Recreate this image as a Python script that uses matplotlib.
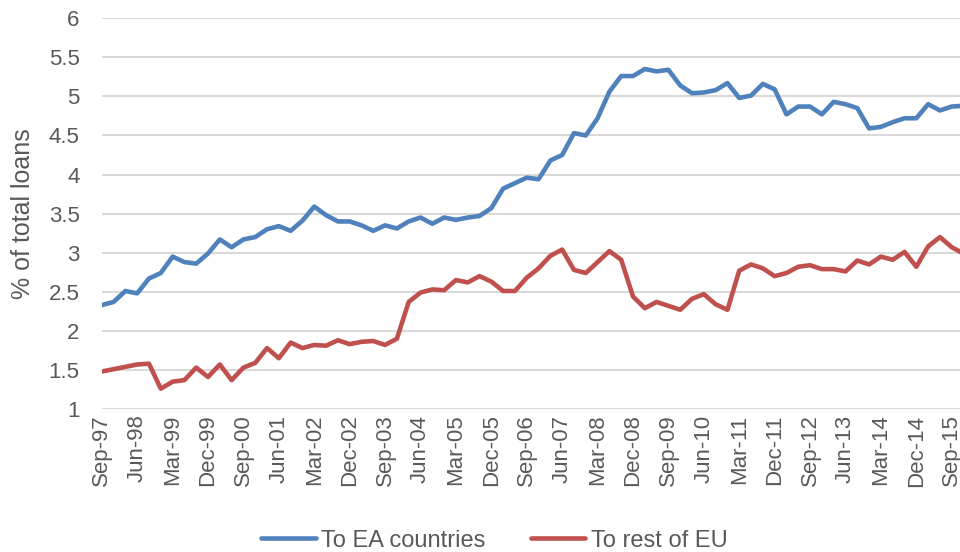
import matplotlib.pyplot as plt

# Quarterly series, Sep-97 .. Dec-15 (% of total loans)
ea_countries = [2.33, 2.37, 2.51, 2.48, 2.67, 2.74, 2.95, 2.88, 2.86, 2.99,
                3.17, 3.07, 3.17, 3.20, 3.30, 3.34, 3.28, 3.41, 3.59, 3.48,
                3.40, 3.40, 3.35, 3.28, 3.35, 3.31, 3.40, 3.45, 3.37, 3.45,
                3.42, 3.45, 3.47, 3.57, 3.82, 3.89, 3.96, 3.94, 4.18, 4.25,
                4.53, 4.50, 4.72, 5.06, 5.26, 5.26, 5.35, 5.32, 5.34, 5.14,
                5.04, 5.05, 5.08, 5.17, 4.98, 5.01, 5.16, 5.09, 4.77, 4.87,
                4.87, 4.77, 4.93, 4.90, 4.85, 4.59, 4.61, 4.67, 4.72, 4.72,
                4.90, 4.82, 4.87, 4.88]
rest_of_eu = [1.48, 1.51, 1.54, 1.57, 1.58, 1.26, 1.35, 1.37, 1.53, 1.41,
              1.57, 1.37, 1.53, 1.59, 1.78, 1.65, 1.85, 1.78, 1.82, 1.81,
              1.88, 1.83, 1.86, 1.87, 1.82, 1.90, 2.37, 2.49, 2.53, 2.52,
              2.65, 2.62, 2.70, 2.63, 2.51, 2.51, 2.68, 2.80, 2.96, 3.04,
              2.78, 2.74, 2.88, 3.02, 2.91, 2.44, 2.29, 2.37, 2.32, 2.27,
              2.41, 2.47, 2.34, 2.27, 2.77, 2.85, 2.80, 2.70, 2.74, 2.82,
              2.84, 2.79, 2.79, 2.76, 2.90, 2.85, 2.95, 2.91, 3.01, 2.82,
              3.08, 3.20, 3.07, 2.99]

# quarter labels Sep-97, Dec-97, Mar-98, ...
months = ['Mar', 'Jun', 'Sep', 'Dec']
quarters = []
for i in range(len(ea_countries)):
    q = 2 + i
    year = 1997 + q // 4
    quarters.append(f"{months[q % 4]}-{year % 100:02d}")

x = list(range(len(quarters)))

plt.rcParams['font.family'] = ['Liberation Sans', 'DejaVu Sans']

fig = plt.figure(figsize=(9.6, 5.52), dpi=100)
ax = fig.add_axes([0.106, 0.259, 0.894, 0.708])

ax.plot(x, ea_countries, color='#4F81BD', linewidth=3.3, label='To EA countries',
        solid_joinstyle='round', solid_capstyle='round')
ax.plot(x, rest_of_eu, color='#C0504D', linewidth=3.3, label='To rest of EU',
        solid_joinstyle='round', solid_capstyle='round')

ax.set_ylim(1, 6)
ax.set_yticks([1, 1.5, 2, 2.5, 3, 3.5, 4, 4.5, 5, 5.5, 6])
ax.set_yticklabels(['1', '1.5', '2', '2.5', '3', '3.5', '4', '4.5', '5', '5.5', '6'])
# the right end is cut at the image edge, like the original
ax.set_xlim(0, 72.7)
ax.set_xticks(x[::3])
ax.set_xticklabels(quarters[::3], rotation=90)

ax.grid(axis='y', color='#D9D9D9', linewidth=1.5)
ax.set_axisbelow(True)
for s in ax.spines.values():
    s.set_visible(False)
ax.tick_params(length=0, colors='#595959', labelsize=16)
ax.tick_params(axis='y', pad=16)
ax.tick_params(axis='x', pad=4)
ax.set_ylabel('% of total loans', fontsize=18, color='#595959', labelpad=10)

fig.legend(loc='lower center', bbox_to_anchor=(0.515, -0.038), ncol=2, frameon=False,
           fontsize=17, handlelength=2.3, columnspacing=1.9, handletextpad=0.25,
           labelcolor='#595959')

fig.savefig('out.png', dpi=100)
